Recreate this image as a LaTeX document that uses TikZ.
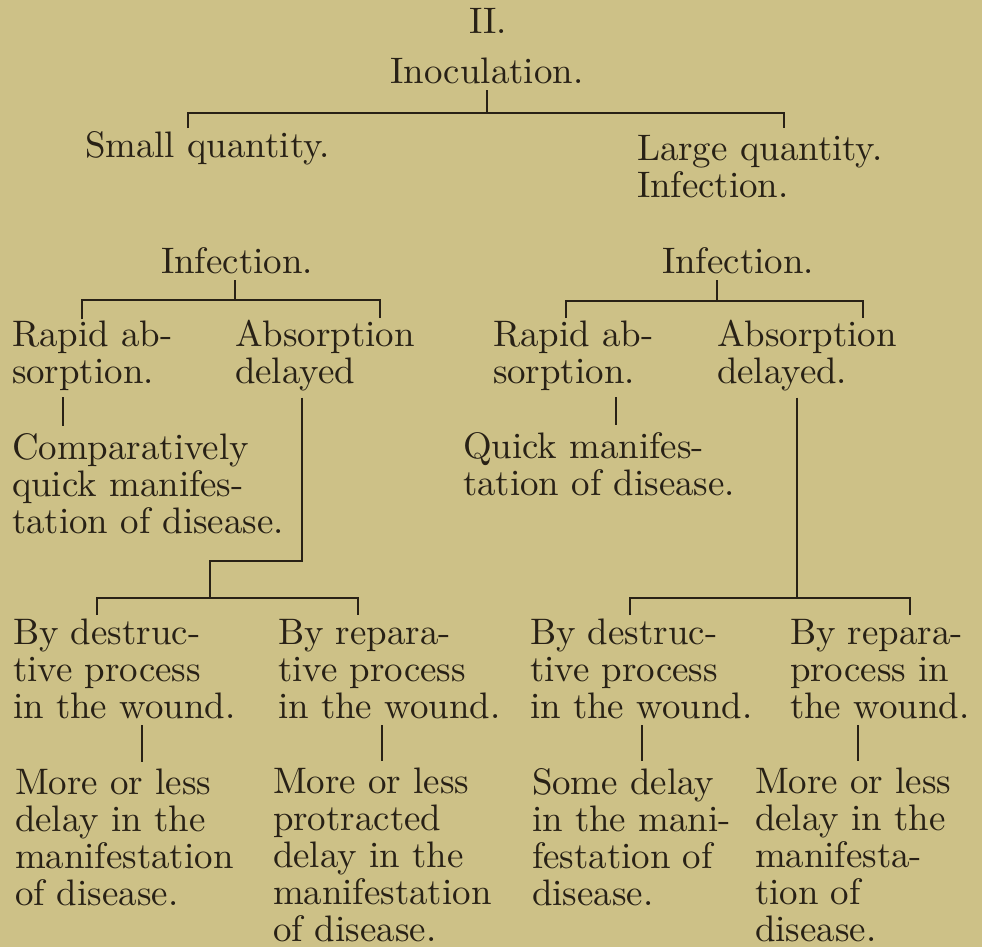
\documentclass[tikz,border=0pt]{standalone}
\usepackage{fontspec}
\setmainfont{lmroman10-regular.otf}
\usetikzlibrary{calc}
\definecolor{paper}{RGB}{205,193,135}
\definecolor{ink}{RGB}{40,33,22}
\begin{document}
\begin{tikzpicture}[x=0.02cm, y=-0.02cm,
        txt/.style={font=\fontsize{21}{21}\selectfont, text=ink, inner sep=0pt, outer xsep=0pt, outer ysep=4pt, align=left, anchor=base west},
        mid/.style={txt, anchor=base},
        conn/.style={draw=ink, line width=1.2pt}
      ]
        \fill[paper] (0,0) rectangle (982,947);
        \useasboundingbox (0,0) rectangle (982,947);
        % multi-line nodes sit on the baseline of their last line
        \node[mid] (num) at (488,33) {II.};
        \node[mid] (ino) at (487,83) {Inoculation.};
        \node[txt] (small) at (85,157) {Small quantity.};
        \node[txt] (large) at (637,197) {Large quantity.\\Infection.};
        \node[mid] (infL) at (237,273) {Infection.};
        \node[mid] (infR) at (738,273) {Infection.};
        \node[txt] (rapL) at (12,383) {Rapid ab-\\sorption.};
        \node[txt] (absL) at (235,383) {Absorption\\delayed};
        \node[txt] (rapR) at (493,383) {Rapid ab-\\sorption.};
        \node[txt] (absR) at (717,383) {Absorption\\delayed.};
        \node[txt] (compL) at (12,533) {Comparatively\\quick manifes-\\tation of disease.};
        \node[txt] (quickR) at (463,495) {Quick manifes-\\tation of disease.};
        \node[txt] (desL) at (13,718) {By destruc-\\tive process\\in the wound.};
        \node[txt] (repL) at (278,718) {By repara-\\tive process\\in the wound.};
        \node[txt] (desR) at (530,718) {By destruc-\\tive process\\in the wound.};
        \node[txt] (repR) at (790,718) {By repara-\\process in\\the wound.};
        \node[txt] (delL1) at (15,905) {More or less\\delay in the\\manifestation\\of disease.};
        \node[txt] (delL2) at (273,941) {More or less\\protracted\\delay in the\\manifestation\\of disease.};
        \node[txt] (delR1) at (532,905) {Some delay\\in the mani-\\festation of\\disease.};
        \node[txt] (delR2) at (755,941) {More or less\\delay in the\\manifesta-\\tion of\\disease.};
        \coordinate (k1) at (487,113); \coordinate (k1l) at (188,128); \coordinate (k1r) at (784,128);
        \coordinate (k2) at (235,300); \coordinate (k2l) at (82,319); \coordinate (k2r) at (380,318);
        \coordinate (k3) at (717,301); \coordinate (k3l) at (566,318); \coordinate (k3r) at (863,318);
        \coordinate (e4) at (302,561);
        \coordinate (k4) at (210,598); \coordinate (k4l) at (97,615); \coordinate (k4r) at (358,615);
        \coordinate (k5) at (797,598); \coordinate (k5l) at (630,615); \coordinate (k5r) at (910,615);
        \draw[conn] (ino.south -| k1) -- (k1);
        \draw[conn] (k1l) |- (k1) -| (k1r);
        \draw[conn] (infL.south -| k2) -- (k2);
        \draw[conn] (k2l) |- (k2) -| (k2r);
        \draw[conn] (infR.south -| k3) -- (k3);
        \draw[conn] (k3l) |- (k3) -| (k3r);
        \draw[conn] (absL.south -| e4) -- (e4) -| (k4);
        \draw[conn] (k4l) |- (k4) -| (k4r);
        \draw[conn] (absR.south -| k5) -- (k5);
        \draw[conn] (k5l) |- (k5) -| (k5r);
        \foreach \a/\b/\xx in {rapL/compL/63, rapR/quickR/616, desL/delL1/142, repL/delL2/382, desR/delR1/642, repR/delR2/858} {
          \draw[conn] (\a.south -| \xx,0) -- (\b.north -| \xx,0);
        }
      \end{tikzpicture}
\end{document}
